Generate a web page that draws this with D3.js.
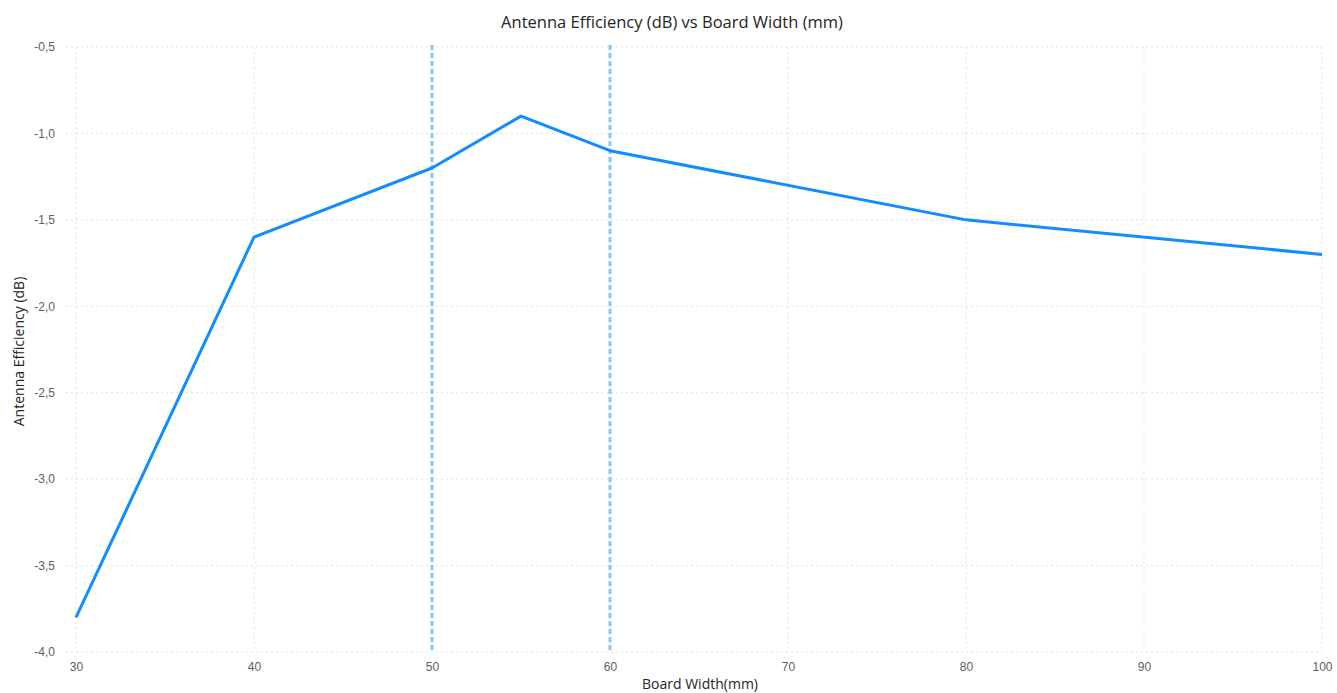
<!DOCTYPE html>
<html>
<head>
<meta charset="utf-8">
<script src="https://cdn.jsdelivr.net/npm/d3@7"></script>
<style>
  body { margin: 0; background: #fff; }
  svg { display: block; font-family: "Open Sans", "Noto Sans", sans-serif; }
</style>
</head>
<body>
<svg id="chart" width="1337" height="693"></svg>
<script>
// board width (mm) and efficiency (dB)
const boardWidth = [30, 40, 50, 55, 60, 80, 100]
const efficiency = [-3.8, -1.6, -1.2, -0.9, -1.1, -1.5, -1.7]
const xTicks = [30, 40, 50, 60, 70, 80, 90, 100]
const yTicks = [-4.0, -3.5, -3.0, -2.5, -2.0, -1.5, -1.0, -0.5]
const refLines = [50, 60]

const width = 1337
const height = 693
const margin = { top: 47, right: 15, bottom: 41, left: 76 }

const svg = d3.select('#chart')

const x = d3.scaleLinear()
    .domain([30, 100])
    .range([margin.left, width - margin.right])

const y = d3.scaleLinear()
    .domain([-4.0, -0.5])
    .range([height - margin.bottom, margin.top])

const fmt = d => d3.format('.1f')(d).replace('.', ',').replace('−', '-')

// grid
svg.append('g')
    .selectAll('line')
    .data(yTicks)
    .join('line')
    .attr('x1', margin.left - 10)
    .attr('x2', width - margin.right)
    .attr('y1', d => y(d))
    .attr('y2', d => y(d))
    .attr('stroke', '#e1e1e1')
    .attr('stroke-width', 1)
    .attr('stroke-dasharray', '2,3')

svg.append('g')
    .selectAll('line')
    .data(xTicks)
    .join('line')
    .attr('x1', d => x(d))
    .attr('x2', d => x(d))
    .attr('y1', margin.top)
    .attr('y2', height - margin.bottom)
    .attr('stroke', '#e1e1e1')
    .attr('stroke-width', 1)
    .attr('stroke-dasharray', '2,3')

// y axis labels
const yAxis = svg.append('g')
    .attr('transform', `translate(${margin.left - 21},0)`)
    .call(d3.axisLeft(y).tickValues(yTicks).tickFormat(fmt).tickSize(0).tickPadding(0))
yAxis.select('.domain').remove()
yAxis.selectAll('text')
    .attr('fill', '#605e5c')
    .style('font-size', '12px')

// x axis labels
const xAxis = svg.append('g')
    .attr('transform', `translate(0,${height - margin.bottom + 4})`)
    .call(d3.axisBottom(x).tickValues(xTicks).tickFormat(d3.format('d')).tickSize(0).tickPadding(6))
xAxis.select('.domain').remove()
xAxis.selectAll('text')
    .attr('fill', '#605e5c')
    .style('font-size', '12px')

// reference lines
svg.append('g')
    .selectAll('line')
    .data(refLines)
    .join('line')
    .attr('x1', d => x(d))
    .attr('x2', d => x(d))
    .attr('y1', margin.top - 2)
    .attr('y2', height - margin.bottom)
    .attr('stroke', '#8cc5f7')
    .attr('stroke-width', 3)
    .attr('stroke-dasharray', '5,3')

// series line
const points = boardWidth.map((w, i) => [w, efficiency[i]])
svg.append('path')
    .datum(points)
    .attr('fill', 'none')
    .attr('stroke', '#118dff')
    .attr('stroke-width', 3)
    .attr('stroke-linejoin', 'round')
    .attr('d', d3.line().x(d => x(d[0])).y(d => y(d[1])))

// titles
svg.append('text')
    .attr('x', 672)
    .attr('y', 28)
    .attr('text-anchor', 'middle')
    .attr('fill', '#252423')
    .style('font-size', '16.5px')
    .text('Antenna Efficiency (dB) vs Board Width (mm)')

svg.append('text')
    .attr('x', 700)
    .attr('y', 689)
    .attr('text-anchor', 'middle')
    .attr('fill', '#252423')
    .style('font-size', '14px')
    .text('Board Width(mm)')

svg.append('text')
    .attr('transform', `translate(24,${(margin.top + height - margin.bottom) / 2 + 2}) rotate(-90)`)
    .attr('text-anchor', 'middle')
    .attr('fill', '#252423')
    .style('font-size', '14px')
    .text('Antenna Efficiency (dB)')
</script>
</body>
</html>
